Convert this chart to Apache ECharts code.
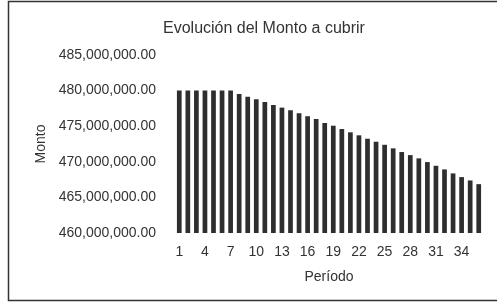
<!DOCTYPE html>
<html>
<head>
<meta charset="utf-8">
<script src="https://cdn.jsdelivr.net/npm/echarts@6/dist/echarts.min.js"></script>
<style>html,body{margin:0;padding:0;background:#fff}#c{width:497px;height:303px}</style>
</head>
<body>
<div id="c"></div>
<script>
const chartTitle = "Evolución del Monto a cubrir";
const xName = "Período";
const yName = "Monto";
const periods = Array.from({length: 36}, (_, i) => String(i + 1));
const montoMillions = [
  480.0, 480.0, 480.0, 480.0, 480.0, 480.0, 480.0, 479.54, 479.15, 478.79,
  478.41, 477.99, 477.61, 477.24, 476.82, 476.40, 476.01, 475.45, 475.07, 474.60,
  474.14, 473.72, 473.24, 472.82, 472.39, 471.89, 471.37, 470.94, 470.48, 469.96,
  469.44, 468.93, 468.37, 467.85, 467.38, 466.86
];
const monto = montoMillions.map(v => Math.round(v * 1e6));
const yMin = 460000000, yMax = 485000000, yStep = 5000000;

const fmt = v => v.toLocaleString('en-US', {minimumFractionDigits: 2, maximumFractionDigits: 2});
const font = "'Liberation Sans', Arial, sans-serif";
const chart = echarts.init(document.getElementById('c'), null, {renderer: 'canvas'});
chart.setOption({
  animation: false,
  backgroundColor: '#fff',
  title: {
    text: chartTitle, left: 158, top: 16,
    textStyle: {fontFamily: font, fontSize: 16, fontWeight: 'normal', color: '#333'}
  },
  graphic: [{
    type: 'rect', shape: {x: 8.5, y: 1.5, width: 500, height: 299},
    style: {fill: 'none', stroke: '#333', lineWidth: 1.5}, silent: true
  }],
  grid: {left: 175, right: 14, top: 55, bottom: 70},
  xAxis: {
    type: 'category', data: periods,
    name: xName, nameLocation: 'middle', nameGap: 37,
    nameTextStyle: {fontFamily: font, fontSize: 14, color: '#333'},
    axisLine: {show: false}, axisTick: {show: false},
    axisLabel: {interval: 2, margin: 12, fontFamily: font, fontSize: 14, color: '#333'}
  },
  yAxis: {
    type: 'value', min: yMin, max: yMax, interval: yStep,
    name: yName, nameLocation: 'middle', nameGap: 125, nameRotate: 90,
    nameTextStyle: {fontFamily: font, fontSize: 14, color: '#333'},
    axisLine: {show: false}, axisTick: {show: false}, splitLine: {show: false},
    axisLabel: {margin: 19, fontFamily: font, fontSize: 14, color: '#333', formatter: fmt}
  },
  series: [{
    type: 'bar', data: monto, barCategoryGap: '45%',
    itemStyle: {color: '#2e2e2e'}
  }]
});
</script>
</body>
</html>
